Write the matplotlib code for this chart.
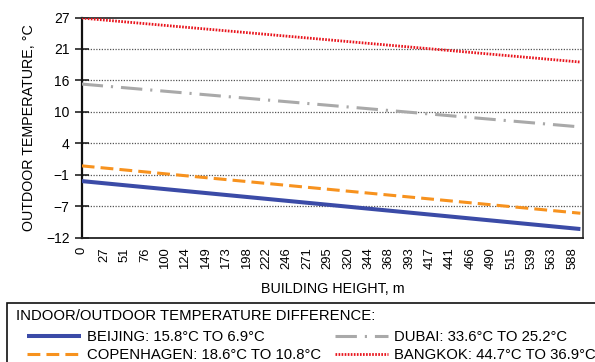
import matplotlib
matplotlib.use("Agg")
import matplotlib.pyplot as plt
from matplotlib.lines import Line2D
from matplotlib.patches import Rectangle
import numpy as np

plt.rcParams["font.family"] = ["Liberation Sans", "DejaVu Sans"]

# Building height (m) at the two ends of each profile
height = [0, 598]

# Outdoor temperature (°C) at ground level and at the top
beijing = [-2.0, -10.5]
copenhagen = [0.7, -7.7]
dubai = [15.2, 7.6]
bangkok = [26.9, 19.1]

series_labels = [
    "BEIJING: 15.8°C TO 6.9°C",
    "COPENHAGEN: 18.6°C TO 10.8°C",
    "DUBAI: 33.6°C TO 25.2°C",
    "BANGKOK: 44.7°C TO 36.9°C",
]
legend_title = "INDOOR/OUTDOOR TEMPERATURE DIFFERENCE:"

x_ticks = [0, 27, 51, 76, 100, 124, 149, 173, 198, 222, 246, 271, 295, 320,
           344, 368, 393, 417, 441, 466, 490, 515, 539, 563, 588]
y_tick_labels = ["\u221212", "\u22127", "\u22121", "4", "10", "16", "21", "27"]
y_min, y_max = -12, 27

W, H = 595, 362
fig = plt.figure(figsize=(W / 100, H / 100), dpi=100)
ax = fig.add_axes([81.7 / W, 1 - 237.5 / H, (583.3 - 81.7) / W, (237.5 - 17.5) / H])

styles = [
    dict(color="#3b4ba7", lw=2.9, linestyle="-", solid_capstyle="butt"),
    dict(color="#f7921e", lw=2.2, linestyle=(0, (4.2, 2.0))),
    dict(color="#a9a9a9", lw=2.2, linestyle=(0, (7.0, 2.6, 0.7, 2.6))),
    dict(color="#e8141c", lw=2.0, linestyle=(0, (0.6, 0.5))),
]
series = [beijing, copenhagen, dubai, bangkok]

handles = []
for vals, st in zip(series, styles):
    ax.plot(height, vals, zorder=3, **st)
    handles.append(Line2D([], [], **st))

ax.set_xlim(0, 601.5)
ax.set_ylim(y_min, y_max)

y_pos = np.linspace(y_min, y_max, len(y_tick_labels))
ax.set_yticks(y_pos)
ax.set_yticklabels(y_tick_labels, fontsize=10)
ax.set_xticks(x_ticks)
ax.set_xticklabels([str(v) for v in x_ticks], rotation=90, fontsize=9.4)

ax.tick_params(axis="y", direction="inout", length=9.5, width=1.1, pad=4.0, color="#111111")
ax.tick_params(axis="x", length=0, pad=7)

for yv in y_pos[1:-1]:
    ax.axhline(yv, color="#555555", lw=0.9, linestyle=(0, (1, 1.2)), zorder=1)

ax.spines["left"].set_linewidth(1.6)
ax.spines["left"].set_color("#111111")
ax.spines["bottom"].set_linewidth(1.3)
ax.spines["bottom"].set_color("#222222")
ax.spines["top"].set_linewidth(1.3)
ax.spines["top"].set_color("#333333")
ax.spines["right"].set_linewidth(1.3)
ax.spines["right"].set_color("#444444")

ax.set_ylabel("OUTDOOR TEMPERATURE, \u00b0C", fontsize=10.3, labelpad=7)
ax.set_xlabel("BUILDING HEIGHT, m", fontsize=10.3, labelpad=9)

# Legend box with title and two columns of entries
fig.patches.append(Rectangle((7.3 / W, -0.05), 1.0, (1 - 303.3 / H) + 0.05,
                             transform=fig.transFigure, fill=False,
                             edgecolor="#111111", lw=1.2, zorder=5))
fig.text(16 / W, 1 - 316.5 / H, legend_title, fontsize=10.7, va="center", ha="left")

fig.legend(handles, series_labels,
           ncol=2, loc="upper left", bbox_to_anchor=(27.3 / W, 1 - 330 / H),
           frameon=False, fontsize=10.7, handlelength=3.6, handletextpad=0.4,
           columnspacing=0.95, labelspacing=0.3, borderpad=0, borderaxespad=0)

fig.savefig("out.png", dpi=100)
